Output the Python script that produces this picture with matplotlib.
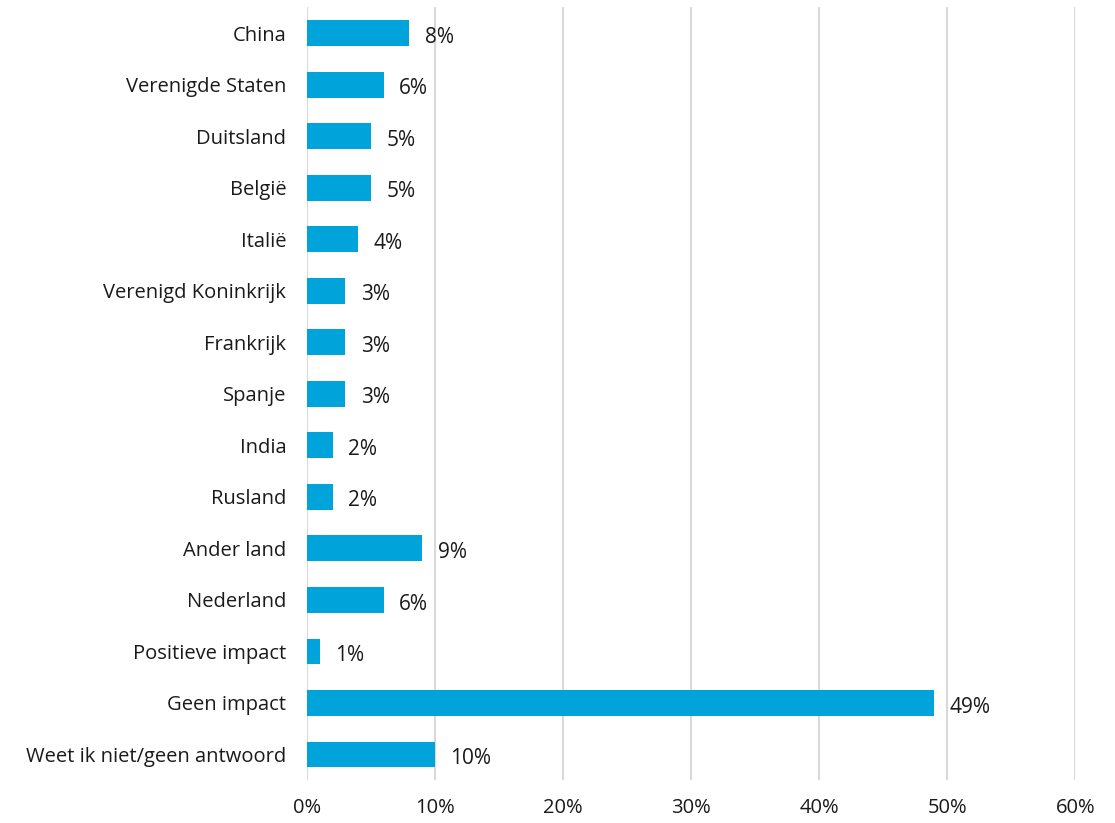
import matplotlib.pyplot as plt
from matplotlib.ticker import PercentFormatter

categories = ["China", "Verenigde Staten", "Duitsland", "België", "Italië",
              "Verenigd Koninkrijk", "Frankrijk", "Spanje", "India", "Rusland",
              "Ander land", "Nederland", "Positieve impact", "Geen impact",
              "Weet ik niet/geen antwoord"]
values = [8, 6, 5, 5, 4, 3, 3, 3, 2, 2, 9, 6, 1, 49, 10]
xticks = [0, 10, 20, 30, 40, 50, 60]

plt.rcParams["font.family"] = ["Open Sans", "DejaVu Sans"]

fig = plt.figure(figsize=(11.15, 8.23), dpi=100)
ax = fig.add_axes([0.2753, 0.052, 0.689, 0.939])

ypos = range(len(categories))
ax.barh(ypos, values, height=0.5, color="#00A3DA", zorder=3)
for y, v in zip(ypos, values):
    ax.text(v + 1.2, y + 0.08, f"{v}%", va="center", ha="left",
            fontsize=15, color="#1a1a1a")

ax.set_xlim(0, 60)
ax.set_ylim(len(categories) - 0.5, -0.5)
ax.set_yticks(list(ypos))
ax.set_yticklabels(categories, fontsize=14.5, color="#1a1a1a")
ax.set_xticks(xticks)
ax.xaxis.set_major_formatter(PercentFormatter(decimals=0))
ax.tick_params(axis="x", labelsize=14.5, colors="#1a1a1a", length=0, pad=13)
ax.tick_params(axis="y", length=0, pad=15)
ax.grid(axis="x", color="#D9D9D9", linewidth=1.5, zorder=0)
for s in ax.spines.values():
    s.set_visible(False)

fig.savefig("out.png", dpi=100)
